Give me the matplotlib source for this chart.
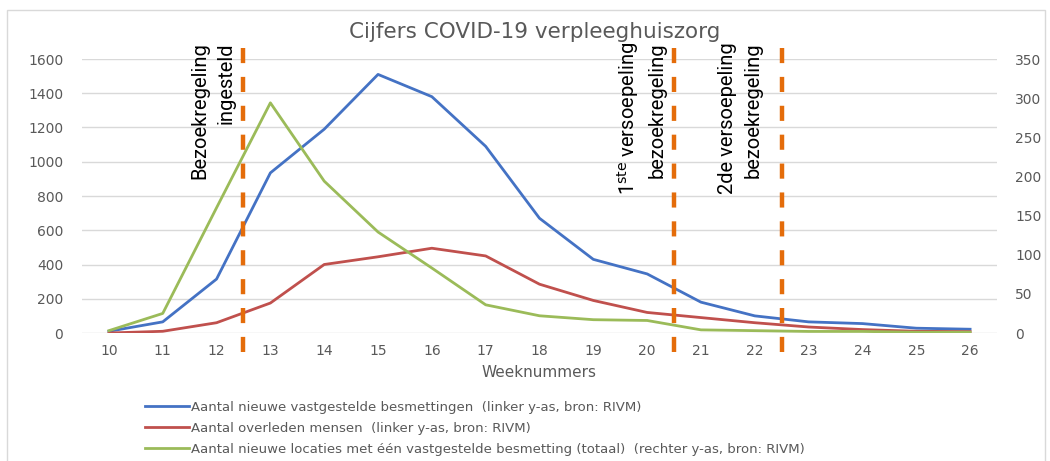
import numpy as np
import matplotlib
matplotlib.use("Agg")
import matplotlib.pyplot as plt
from matplotlib.lines import Line2D
from matplotlib.patches import Rectangle

# data
weeks = list(range(10, 27))
besmettingen = [10, 65, 315, 935, 1190, 1510, 1380, 1090, 670, 430, 345, 180, 100, 65, 55, 28, 22]
overleden = [0, 10, 60, 175, 400, 445, 495, 450, 285, 190, 120, 90, 60, 35, 20, 10, 8]
locaties = [3, 25, 160, 294, 194, 129, 83, 36, 22, 17, 16, 4, 3, 2, 2, 1, 1]

maatregel_x = [12.5, 20.5, 22.5]
maatregel_tekst = ["Bezoekregeling\ningesteld",
                   "1$^{\\rm ste}$ versoepeling\nbezoekregeling",
                   "2de versoepeling\nbezoekregeling"]
maatregel_pos = [213, 641, 740]   # x-pixel of the text block

legend_labels = ["Aantal nieuwe vastgestelde besmettingen  (linker y-as, bron: RIVM)",
                 "Aantal overleden mensen  (linker y-as, bron: RIVM)",
                 "Aantal nieuwe locaties met één vastgestelde besmetting (totaal)  (rechter y-as, bron: RIVM)"]

blue = '#4472C4'
red = '#C0504D'
green = '#9BBB59'
orange = '#E46C0A'
grey = '#595959'

W, H = 1050, 461
fig = plt.figure(figsize=(W / 100, H / 100), dpi=100)
ax = fig.add_axes([82 / W, 1 - 333 / H, (997 - 82) / W, (333 - 59) / H])
ax2 = ax.twinx()

ax.plot(weeks, besmettingen, color=blue, lw=2, zorder=3)
ax.plot(weeks, overleden, color=red, lw=2, zorder=3)
ax2.plot(weeks, locaties, color=green, lw=2, zorder=3)

ax.set_xlim(9.5, 26.5)
ax.set_ylim(0, 1600)
ax2.set_ylim(0, 350)
ax.set_yticks(np.arange(0, 1601, 200))
ax2.set_yticks(np.arange(0, 351, 50))
ax.set_xticks(weeks)

ax.grid(axis='y', color='#d9d9d9', lw=1)
ax.set_axisbelow(True)
for a in (ax, ax2):
    for s in a.spines.values():
        s.set_visible(False)
    a.tick_params(length=0, colors=grey, labelsize=10)
ax.tick_params(axis='y', pad=13.5)
ax2.tick_params(axis='y', pad=13)
ax.tick_params(axis='x', pad=8)

ax.set_xlabel("Weeknummers", color=grey, fontsize=11, labelpad=5)
fig.text(535 / W, 1 - 32 / H, "Cijfers COVID-19 verpleeghuiszorg", color=grey,
         fontsize=15.5, ha='center', va='center')

# dashed vertical lines for the measures
for x in maatregel_x:
    ax.axvline(x, ymin=-0.07, ymax=1.04, clip_on=False, color=orange, lw=3.2,
               dashes=(3.4, 3.1), zorder=4)

for xp, t in zip(maatregel_pos, maatregel_tekst):
    fig.text(xp / W, 1 - 42 / H, t, rotation=90, ha='center', va='top',
             fontsize=14.5, linespacing=1.45, multialignment='right', color='black',
             family=['Roboto', 'DejaVu Sans'])

handles = [Line2D([], [], color=c, lw=2) for c in (blue, red, green)]
leg = fig.legend(handles, legend_labels, loc='upper left',
                 bbox_to_anchor=(138 / W, 1 - 394 / H), frameon=False,
                 fontsize=9.5, handlelength=3.4, handletextpad=0.15,
                 labelspacing=0.62, borderpad=0)
for t in leg.get_texts():
    t.set_color(grey)

fig.add_artist(Rectangle((7 / W, -0.02), 1038 / W, 1.02 - 10 / H,
                         transform=fig.transFigure, fill=False,
                         edgecolor='#d9d9d9', lw=1))

fig.savefig('out.png', dpi=100)
